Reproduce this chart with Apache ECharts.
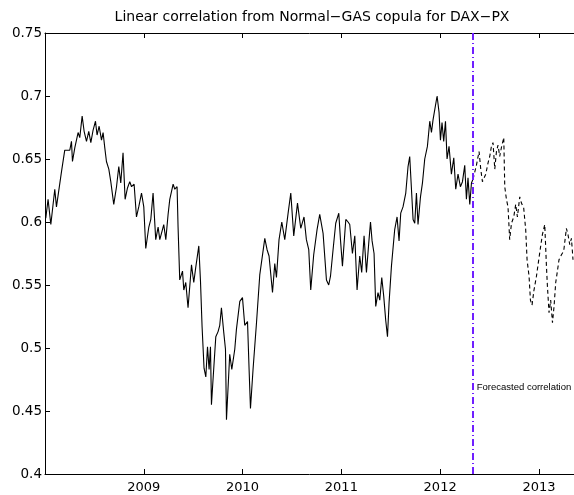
<!DOCTYPE html>
<html>
<head>
<meta charset="utf-8">
<script src="https://cdn.jsdelivr.net/npm/echarts@6/dist/echarts.min.js"></script>
<style>
  html, body { margin: 0; padding: 0; background: #fff; }
  #main { width: 574px; height: 495px; }
</style>
</head>
<body>
<div id="main"></div>
<script>
// decimal years (2008 + offset) and correlation
var histYears = [0.008, 0.031, 0.059, 0.099, 0.116, 0.167, 0.200, 0.251, 0.268, 0.278,
  0.302, 0.335, 0.352, 0.376, 0.396, 0.420, 0.443, 0.464, 0.487, 0.511,
  0.527, 0.548, 0.572, 0.588, 0.605, 0.622, 0.646, 0.666, 0.696, 0.724,
  0.747, 0.767, 0.790, 0.811, 0.835, 0.858, 0.876, 0.902, 0.926, 0.949,
  0.977, 1.000, 1.020, 1.051, 1.071, 1.094, 1.121, 1.145, 1.162, 1.189,
  1.202, 1.223, 1.246, 1.263, 1.297, 1.314, 1.337, 1.347, 1.364, 1.392,
  1.405, 1.425, 1.448, 1.483, 1.506, 1.526, 1.557, 1.574, 1.590, 1.610,
  1.628, 1.645, 1.661, 1.675, 1.685, 1.701, 1.729, 1.752, 1.769, 1.786,
  1.810, 1.827, 1.837, 1.870, 1.891, 1.921, 1.938, 1.972, 1.999, 2.022,
  2.050, 2.066, 2.080, 2.106, 2.141, 2.174, 2.194, 2.225, 2.248, 2.268,
  2.303, 2.326, 2.343, 2.369, 2.397, 2.427, 2.461, 2.488, 2.518, 2.556,
  2.589, 2.622, 2.646, 2.670, 2.690, 2.720, 2.754, 2.781, 2.815, 2.849,
  2.872, 2.890, 2.916, 2.943, 2.974, 2.991, 3.011, 3.045, 3.068, 3.085,
  3.112, 3.136, 3.159, 3.186, 3.206, 3.230, 3.254, 3.277, 3.295, 3.311,
  3.331, 3.348, 3.371, 3.389, 3.409, 3.429, 3.449, 3.467, 3.483, 3.507,
  3.540, 3.564, 3.584, 3.601, 3.624, 3.652, 3.675, 3.692, 3.709, 3.726,
  3.743, 3.760, 3.776, 3.801, 3.821, 3.844, 3.871, 3.895, 3.912, 3.928,
  3.945, 3.969, 3.989, 4.003, 4.019, 4.036, 4.054, 4.070, 4.090, 4.114,
  4.138, 4.158, 4.181, 4.205, 4.226, 4.249, 4.266, 4.282, 4.300, 4.317,
  4.333];
var histCorr = [0.603, 0.618, 0.598, 0.626, 0.612, 0.640, 0.657, 0.657, 0.664, 0.648,
  0.659, 0.671, 0.667, 0.684, 0.672, 0.664, 0.672, 0.663, 0.673, 0.680,
  0.669, 0.676, 0.665, 0.671, 0.659, 0.648, 0.642, 0.632, 0.614, 0.628,
  0.644, 0.631, 0.655, 0.618, 0.627, 0.632, 0.628, 0.630, 0.604, 0.612,
  0.623, 0.612, 0.579, 0.596, 0.602, 0.623, 0.586, 0.596, 0.586, 0.594,
  0.598, 0.586, 0.606, 0.618, 0.630, 0.626, 0.628, 0.596, 0.554, 0.561,
  0.546, 0.552, 0.532, 0.566, 0.552, 0.564, 0.581, 0.553, 0.517, 0.484,
  0.477, 0.501, 0.483, 0.501, 0.455, 0.475, 0.509, 0.513, 0.518, 0.532,
  0.512, 0.499, 0.443, 0.495, 0.483, 0.499, 0.515, 0.537, 0.540, 0.518,
  0.521, 0.483, 0.452, 0.483, 0.520, 0.558, 0.557, 0.587, 0.578, 0.573,
  0.544, 0.567, 0.556, 0.586, 0.600, 0.586, 0.607, 0.623, 0.589, 0.615,
  0.595, 0.604, 0.586, 0.578, 0.546, 0.574, 0.594, 0.606, 0.591, 0.554,
  0.550, 0.557, 0.578, 0.599, 0.607, 0.586, 0.565, 0.602, 0.600, 0.598,
  0.575, 0.589, 0.546, 0.573, 0.560, 0.589, 0.560, 0.583, 0.600, 0.585,
  0.575, 0.533, 0.544, 0.538, 0.556, 0.541, 0.522, 0.509, 0.536, 0.565,
  0.594, 0.604, 0.585, 0.607, 0.612, 0.623, 0.644, 0.652, 0.651, 0.602,
  0.599, 0.623, 0.598, 0.620, 0.631, 0.650, 0.660, 0.680, 0.671, 0.681,
  0.680, 0.700, 0.687, 0.665, 0.679, 0.664, 0.680, 0.650, 0.660, 0.638,
  0.651, 0.626, 0.638, 0.628, 0.632, 0.645, 0.618, 0.635, 0.614, 0.631,
  0.634];

var fcYears = [4.333, 4.367, 4.394, 4.411, 4.428, 4.462, 4.485, 4.502, 4.519, 4.535,
  4.553, 4.570, 4.586, 4.603, 4.620, 4.644, 4.654, 4.671, 4.687, 4.704,
  4.722, 4.745, 4.765, 4.782, 4.806, 4.823, 4.846, 4.866, 4.880, 4.900,
  4.914, 4.930, 4.950, 4.975, 4.998, 5.018, 5.035, 5.059, 5.076, 5.086,
  5.102, 5.119, 5.137, 5.153, 5.170, 5.187, 5.203, 5.228, 5.251, 5.278,
  5.294, 5.312, 5.329, 5.345];
var fcCorr = [0.634, 0.645, 0.656, 0.642, 0.632, 0.638, 0.647, 0.652, 0.660, 0.663,
  0.642, 0.656, 0.661, 0.652, 0.659, 0.667, 0.628, 0.618, 0.612, 0.586,
  0.599, 0.604, 0.614, 0.604, 0.620, 0.615, 0.611, 0.594, 0.570, 0.557,
  0.538, 0.534, 0.546, 0.557, 0.570, 0.581, 0.590, 0.598, 0.565, 0.549,
  0.528, 0.538, 0.520, 0.533, 0.552, 0.561, 0.570, 0.574, 0.577, 0.595,
  0.590, 0.582, 0.587, 0.570];

var baseYear = 2008;
var forecastStart = 2012.33;
var xTickLabels = ['2009', '2010', '2011', '2012', '2013'];

function pairs(xs, ys) {
    return xs.map(function (x, i) { return [baseYear + x, ys[i]]; });
}

var font = '"DejaVu Sans", "Liberation Sans", Arial, sans-serif';
var Chart = echarts.init(document.getElementById('main'), null, { renderer: 'canvas' });

var axisCommon = {
    type: 'value',
    min: 2008,
    max: 2013.355,
    interval: 1,
    splitLine: { show: false },
    axisLine: { show: true, onZero: false, lineStyle: { color: '#000', width: 1 } },
    axisTick: { show: true, inside: true, length: 5, lineStyle: { color: '#000' } }
};

var option = {
    animation: false,
    backgroundColor: '#fff',
    title: {
        text: 'Linear correlation from Normal\u2212GAS copula for DAX\u2212PX',
        left: 307, top: 5, textAlign: 'center',
        textStyle: { fontFamily: font, fontSize: 14, fontWeight: 'normal', color: '#000' }
    },
    grid: { left: 45, right: 0, top: 33, bottom: 21, containLabel: false },
    xAxis: [
        Object.assign({}, axisCommon, {
            position: 'bottom',
            axisLabel: {
                fontFamily: font, fontSize: 13, color: '#000', margin: 7,
                showMinLabel: false, showMaxLabel: false,
                formatter: function (v) {
                    var s = String(v);
                    return xTickLabels.indexOf(s) >= 0 ? s : '';
                }
            }
        }),
        Object.assign({}, axisCommon, {
            position: 'top',
            axisLabel: { show: false }
        })
    ],
    yAxis: {
        type: 'value',
        min: 0.4,
        max: 0.75,
        interval: 0.05,
        splitLine: { show: false },
        axisLine: { show: true, lineStyle: { color: '#000', width: 1 } },
        axisTick: { show: true, inside: true, length: 5, lineStyle: { color: '#000' } },
        axisLabel: { fontFamily: font, fontSize: 13.5, color: '#000', margin: 3 }
    },
    series: [{
        name: 'estimated',
        type: 'line',
        data: pairs(histYears, histCorr),
        symbol: 'none',
        lineStyle: { color: '#000', width: 1.1 }
    }, {
        name: 'forecast',
        type: 'line',
        data: pairs(fcYears, fcCorr),
        symbol: 'none',
        lineStyle: { color: '#000', width: 1.1, type: [4, 3] },
        markLine: {
            silent: true,
            symbol: 'none',
            label: { show: false },
            lineStyle: { color: '#7020ff', width: 2, type: [7, 3, 1, 3] },
            data: [{ xAxis: forecastStart }]
        }
    }]
};

Chart.setOption(option, true);

// note next to the forecast line
var notePos = Chart.convertToPixel({ xAxisIndex: 0, yAxisIndex: 0 }, [forecastStart, 0.469]);
Chart.setOption({
    graphic: [{
        type: 'text',
        x: notePos[0] + 4,
        y: notePos[1],
        style: {
            text: 'Forecasted correlation',
            fontFamily: '"Liberation Sans", Arial, sans-serif', fontSize: 9.5, fill: '#000',
            verticalAlign: 'middle'
        }
    }]
});
</script>
</body>
</html>
